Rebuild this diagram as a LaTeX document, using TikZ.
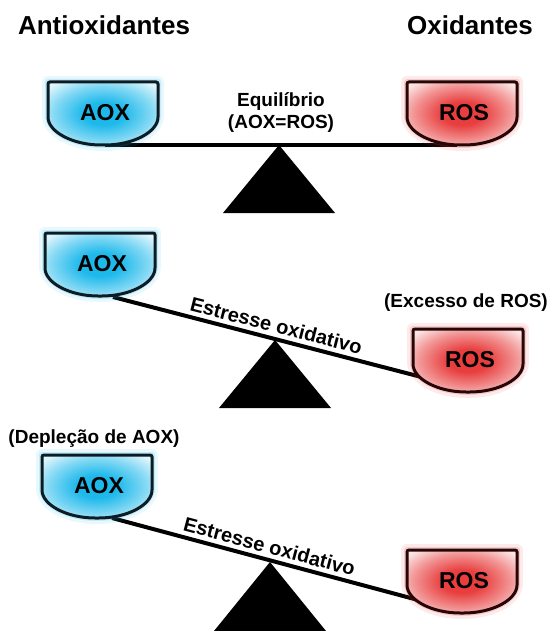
\documentclass[tikz,border=0pt]{standalone}
\usepackage{fontspec}
\usepackage{xstring}
\setmainfont{Liberation Sans}
\definecolor{aoxc}{RGB}{30,185,235}
\definecolor{rosc}{RGB}{232,62,62}
\definecolor{aoxd}{RGB}{12,28,36}
\definecolor{rosd}{RGB}{38,6,6}
\pgfdeclareradialshading{aoxshade}{\pgfpoint{0bp}{0bp}}{color(0bp)=(aoxc); color(9bp)=(aoxc); color(22bp)=(aoxc!55!white); color(32bp)=(aoxc!14!white); color(50bp)=(aoxc!6!white)}
\pgfdeclareradialshading{rosshade}{\pgfpoint{0bp}{0bp}}{color(0bp)=(rosc); color(9bp)=(rosc); color(22bp)=(rosc!55!white); color(32bp)=(rosc!14!white); color(50bp)=(rosc!6!white)}
\newcommand\bowlpath[2]{(#1,#2) -- ++(0,33) .. controls +(0,17) and +(-30,0) .. ++(55,30) .. controls +(30,0) and +(0,17) .. ++(55,-30) -- ++(0,-33) -- cycle}
\newcommand\mybowl[6]{%
  \draw[#4, opacity=0.10, line width=12pt, line join=round] \bowlpath{#2}{#3};
  \draw[#4, opacity=0.18, line width=6pt, line join=round] \bowlpath{#2}{#3};
  \shade[shading=#5] \bowlpath{#2}{#3};
  \draw[#6, line width=3pt, rounded corners=2pt] \bowlpath{#2}{#3};
  \node[bowllbl] (#1) at (#2+57,#3+31) {\IfStrEq{#4}{aoxc}{AOX}{ROS}};
}
\tikzset{
  bowllbl/.style={font=\bfseries\fontsize{23}{26}\selectfont, inner sep=0pt},
  title/.style={font=\bfseries\fontsize{26}{30}\selectfont, anchor=base, inner sep=0pt},
  lbl/.style={font=\bfseries\fontsize{19}{22}\selectfont, anchor=base, inner sep=0pt},
  stress/.style={font=\bfseries\fontsize{20}{23}\selectfont, sloped, above=2.5pt, inner sep=1.5pt},
  beam/.style={line width=4pt, black},
  fulcrum/.style={fill=black}
}
\begin{document}
\begin{tikzpicture}[x=1pt,y=-1pt]
\useasboundingbox (0,0) rectangle (550,631);
\node[title] (tA) at (104,35) {Antioxidantes};
\node[title] (tO) at (470,35) {Oxidantes};
% panel 1
\coordinate (a1) at (279,145);
\fill[fulcrum] (a1) -- (223,213) -- (335,213) -- cycle;
\coordinate (b1l) at (105,145);
\coordinate (b1r) at (457,145);
\draw[beam] (b1l) -- (b1r);
\mybowl{aox1}{48}{82}{aoxc}{aoxshade}{aoxd}
\mybowl{ros1}{407}{82}{rosc}{rosshade}{rosd}
\node[lbl] (eq1) at (281,107) {Equilíbrio};
\node[lbl] (eq2) at (281,129) {(AOX=ROS)};
% panel 2
\coordinate (a2) at (275,340);
\fill[fulcrum] (a2) -- (219,408) -- (331,408) -- cycle;
\coordinate (b2l) at (113,297);
\coordinate (b2r) at (433,380);
\draw[beam] (b2l) -- node[stress, pos=0.5] (st2) {Estresse oxidativo} (b2r);
\mybowl{aox2}{45}{233}{aoxc}{aoxshade}{aoxd}
\mybowl{ros2}{413}{329}{rosc}{rosshade}{rosd}
\node[lbl] (exc) at (466,307) {(Excesso de ROS)};
% panel 3
\coordinate (a3) at (270,562);
\fill[fulcrum] (a3) -- (214,631) -- (326,631) -- cycle;
\coordinate (b3l) at (112,518);
\coordinate (b3r) at (433,604);
\draw[beam] (b3l) -- node[stress, pos=0.48] (st3) {Estresse oxidativo} (b3r);
\mybowl{aox3}{42}{455}{aoxc}{aoxshade}{aoxd}
\mybowl{ros3}{407}{550}{rosc}{rosshade}{rosd}
\node[lbl] (dep) at (94,443) {(Depleção de AOX)};
\end{tikzpicture}
\end{document}
